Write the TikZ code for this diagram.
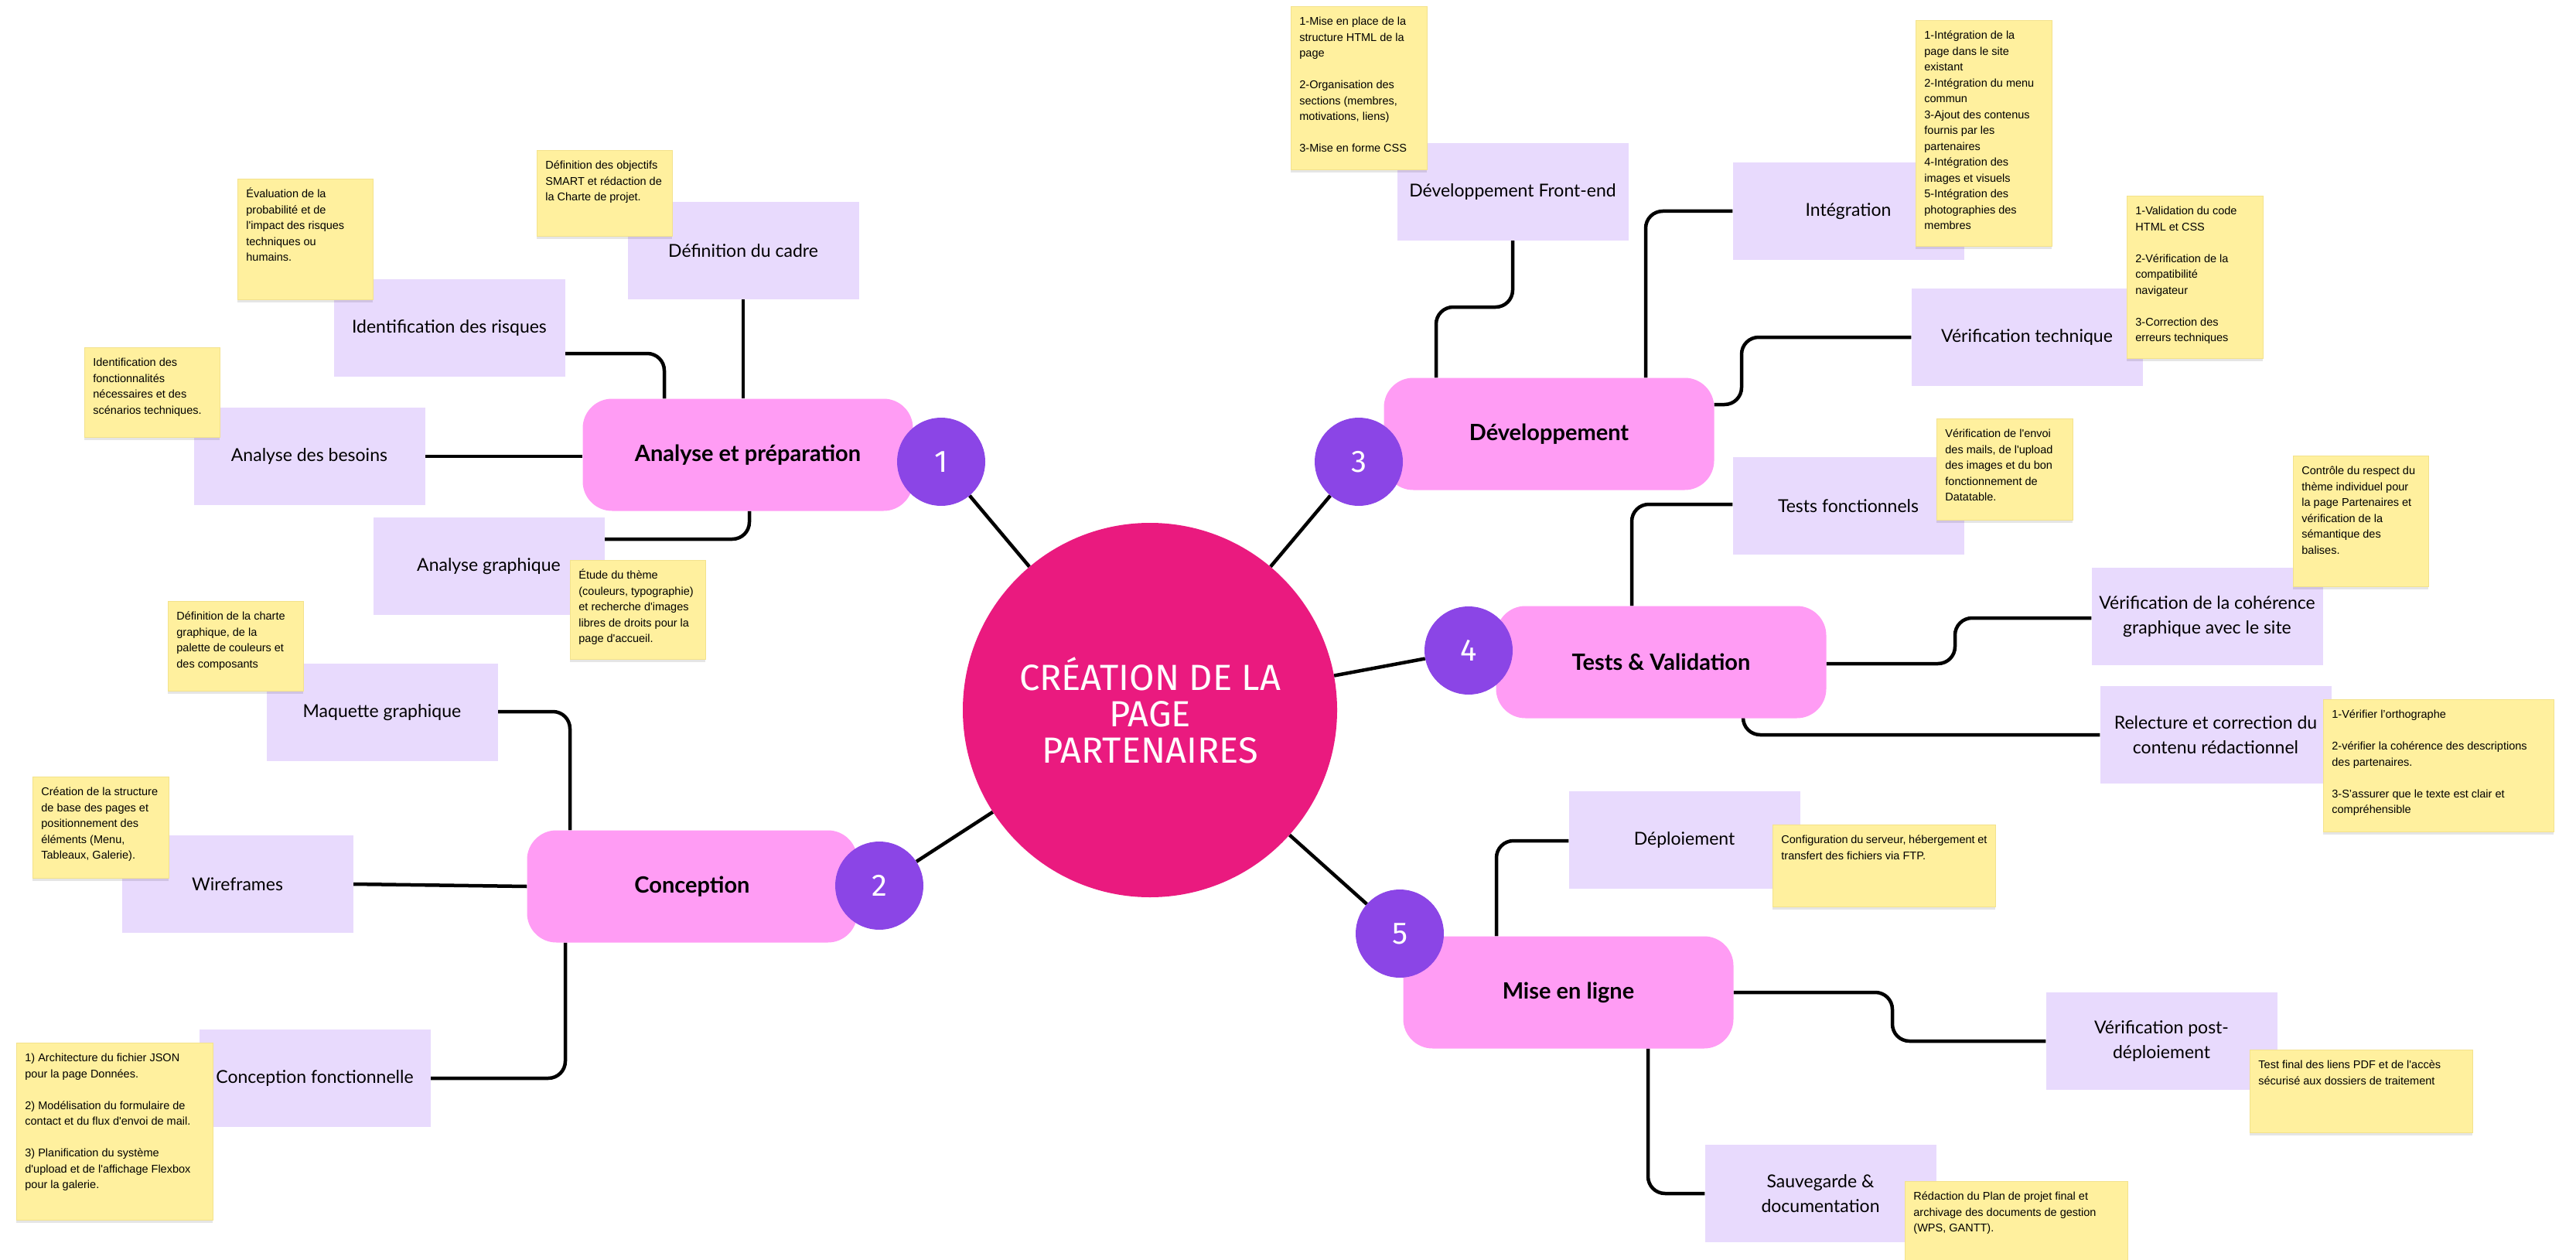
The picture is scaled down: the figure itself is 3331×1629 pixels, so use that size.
\documentclass[tikz,border=0pt]{standalone}
\usepackage{fontspec}
\setmainfont{Liberation Sans}
\newfontfamily\subfont{Lato}
\newfontfamily\phasefont{Lato}
\newfontfamily\circfont{Fira Sans}
\usetikzlibrary{shadows}
\pgfdeclarelayer{bg}
\pgfsetlayers{bg,main}
\definecolor{mainpink}{HTML}{FF9CF4}
\definecolor{lav}{HTML}{E8DAFD}
\definecolor{stick}{HTML}{FFF09E}
\definecolor{stickedge}{HTML}{F3E28C}
\definecolor{badgec}{HTML}{8B45E6}
\definecolor{hubc}{HTML}{EA1A7F}
\newcommand\skipln{\\[20.5pt]}
\newcommand\ap{\textquotesingle}
\newcommand\mkstick[6]{%
  \node[sticky, anchor=north west] (#1) at (#2,#3)
  {\parbox[c][\dimexpr#5pt-20pt\relax][t]{\dimexpr#4pt-22pt\relax}{\raggedright\strut #6}};}
\begin{document}
\begin{tikzpicture}[x=1pt,y=-1pt,
  phase/.style={rectangle, rounded corners=38pt, fill=mainpink, minimum width=427pt, minimum height=145pt,
    inner sep=0pt, font=\phasefont\bfseries\fontsize{29}{34}\selectfont},
  sub/.style={rectangle, fill=lav, minimum width=299pt, minimum height=126pt, inner sep=0pt, align=center,
    font=\subfont\fontsize{23}{32}\selectfont},
  badge/.style={circle, fill=badgec, minimum size=114pt, inner sep=0pt, text=white,
    font=\circfont\fontsize{40}{40}\selectfont},
  hub/.style={circle, fill=hubc, minimum size=484pt, inner sep=0pt, text=white, align=center,
    font=\circfont\fontsize{47}{47}\selectfont},
  conn/.style={draw=black, line width=4.5pt, rounded corners=22pt},
  sticky/.style={rectangle, fill=stick, draw=stickedge, line width=0.8pt, inner xsep=11pt, inner ysep=10pt,
    font=\fontsize{14.5}{20.5}\selectfont,
    drop shadow={shadow xshift=0pt, shadow yshift=-4pt, fill=black, opacity=0.10}}
]
\useasboundingbox (0,0) rectangle (3331,1629);
\begin{pgfonlayer}{bg}
  \fill[white] (0,0) rectangle (3331,1629);
\end{pgfonlayer}

% hub
\node[hub] (hub) at (1487,918) {CRÉATION DE LA\\PAGE\\PARTENAIRES};

% phases
\node[phase] (n1) at (967,588) {Analyse et préparation};
\node[phase] (n2) at (895,1146) {Conception};
\node[phase] (n3) at (2003,561) {Développement};
\node[phase] (n4) at (2148,856) {Tests \& Validation};
\node[phase] (n5) at (2028,1283) {Mise en ligne};

% badges
\node[badge] (b1) at (1217,597) {1};
\node[badge] (b2) at (1137,1145) {2};
\node[badge] (b3) at (1757,597) {3};
\node[badge] (b4) at (1899,841) {4};
\node[badge] (b5) at (1810,1207) {5};

% sub nodes
\node[sub] (a1) at (961,324) {Définition du cadre};
\node[sub] (a2) at (581,424) {Identification des risques};
\node[sub] (a3) at (400,590) {Analyse des besoins};
\node[sub] (a4) at (632,732) {Analyse graphique};
\node[sub] (p1) at (494,921) {Maquette graphique};
\node[sub] (p2) at (307,1143) {Wireframes};
\node[sub] (p3) at (407,1394) {Conception fonctionnelle};
\node[sub] (d1) at (1956,248) {Développement Front-end};
\node[sub] (d2) at (2390,273) {Intégration};
\node[sub] (d3) at (2621,436) {Vérification technique};
\node[sub] (t1) at (2390,654) {Tests fonctionnels};
\node[sub] (t2) at (2854,797) {Vérification de la cohérence\\graphique avec le site};
\node[sub] (t3) at (2865,950) {Relecture et correction du\\contenu rédactionnel};
\node[sub] (m1) at (2178,1086) {Déploiement};
\node[sub] (m2) at (2795,1346) {Vérification post-\\déploiement};
\node[sub] (m3) at (2354,1543) {Sauvegarde \&\\documentation};

% sticky notes
\mkstick{s1}{1669}{8}{176}{211}{1-Mise en place de la\\structure HTML de la\\page\skipln 2-Organisation des\\sections (membres,\\motivations, liens)\skipln 3-Mise en forme CSS}
\mkstick{s2}{2477}{26}{176}{292}{1-Intégration de la\\page dans le site\\existant\\2-Intégration du menu\\commun\\3-Ajout des contenus\\fournis par les\\partenaires\\4-Intégration des\\images et visuels\\5-Intégration des\\photographies des\\membres}
\mkstick{s3}{2750}{253}{176}{210}{1-Validation du code\\HTML et CSS\skipln 2-Vérification de la\\compatibilité\\navigateur\skipln 3-Correction des\\erreurs techniques}
\mkstick{s4}{694}{194}{175}{111}{Définition des objectifs\\SMART et rédaction de\\la Charte de projet.}
\mkstick{s5}{307}{231}{175}{156}{Évaluation de la\\probabilité et de\\l\ap impact des risques\\techniques ou\\humains.}
\mkstick{s6}{109}{449}{175}{116}{Identification des\\fonctionnalités\\nécessaires et des\\scénarios techniques.}
\mkstick{s7}{737}{724}{175}{128}{Étude du thème\\(couleurs, typographie)\\et recherche d\ap images\\libres de droits pour la\\page d\ap accueil.}
\mkstick{s8}{2504}{541}{176}{131}{Vérification de l\ap envoi\\des mails, de l\ap upload\\des images et du bon\\fonctionnement de\\Datatable.}
\mkstick{s9}{2965}{589}{175}{169}{Contrôle du respect du\\thème individuel pour\\la page Partenaires et\\vérification de la\\sémantique des\\balises.}
\mkstick{s10}{217}{777}{175}{116}{Définition de la charte\\graphique, de la\\palette de couleurs et\\des composants}
\mkstick{s11}{42}{1004}{176}{131}{Création de la structure\\de base des pages et\\positionnement des\\éléments (Menu,\\Tableaux, Galerie).}
\mkstick{s12}{3004}{904}{298}{171}{1-Vérifier l'orthographe\skipln 2-vérifier la cohérence des descriptions\\des partenaires.\skipln 3-S'assurer que le texte est clair et\\compréhensible}
\mkstick{s13}{2292}{1066}{288}{106}{Configuration du serveur, hébergement et\\transfert des fichiers via FTP.}
\mkstick{s14}{21}{1348}{254}{229}{1) Architecture du fichier JSON\\pour la page Données.\skipln 2) Modélisation du formulaire de\\contact et du flux d\ap envoi de mail.\skipln 3) Planification du système\\d\ap upload et de l\ap affichage Flexbox\\pour la galerie.}
\mkstick{s15}{2909}{1357}{288}{107}{Test final des liens PDF et de l\ap accès\\sécurisé aux dossiers de traitement}
\mkstick{s16}{2463}{1527}{288}{110}{Rédaction du Plan de projet final et\\archivage des documents de gestion\\(WPS, GANTT).}

% elbow coordinates
\coordinate (k2) at (859,457);
\coordinate (k4) at (969,697);
\coordinate (k5) at (737,920);
\coordinate (k7) at (731,1394);
\coordinate (k8) at (1857,397);
\coordinate (k9) at (2128,273);
\coordinate (k10a) at (2252,523);
\coordinate (k10b) at (2252,436);
\coordinate (k11) at (2110,652);
\coordinate (k12a) at (2528,858);
\coordinate (k12b) at (2528,799);
\coordinate (k13) at (2254,950);
\coordinate (k14) at (1935,1087);
\coordinate (k15a) at (2447,1283);
\coordinate (k15b) at (2447,1346);
\coordinate (k16) at (2131,1543);

\begin{pgfonlayer}{bg}
  % radial
  \draw[conn] (hub) -- (b1);
  \draw[conn] (hub) -- (b2);
  \draw[conn] (hub) -- (b3);
  \draw[conn] (hub) -- (b4);
  \draw[conn] (hub) -- (b5);
  % phase 1
  \draw[conn] (a1.south) -- (a1.south |- n1.north);
  \draw[conn] (a2.east |- k2) -| (k2 |- n1.north);
  \draw[conn] (a3.east) -- (a3.east -| n1.west);
  \draw[conn] (a4.east |- k4) -| (k4 |- n1.south);
  % phase 2
  \draw[conn] (p1.east |- k5) -| (k5 |- n2.north);
  \draw[conn] (p2.east) -- (n2.west);
  \draw[conn] (p3.east |- k7) -| (k7 |- n2.south);
  % phase 3
  \draw[conn] (d1.south) |- (k8) -- (k8 |- n3.north);
  \draw[conn] (k9 |- n3.north) |- (d2.west |- k9);
  \draw[conn] (n3.east |- k10a) -| (k10b) -- (d3.west |- k10b);
  % phase 4
  \draw[conn] (k11 |- n4.north) |- (t1.west |- k11);
  \draw[conn] (n4.east |- k12a) -| (k12b) -- (t2.west |- k12b);
  \draw[conn] (k13 |- n4.south) |- (t3.west |- k13);
  % phase 5
  \draw[conn] (k14 |- n5.north) |- (m1.west |- k14);
  \draw[conn] (n5.east |- k15a) -| (k15b) -- (m2.west |- k15b);
  \draw[conn] (k16 |- n5.south) |- (m3.west |- k16);
\end{pgfonlayer}
\end{tikzpicture}
\end{document}
